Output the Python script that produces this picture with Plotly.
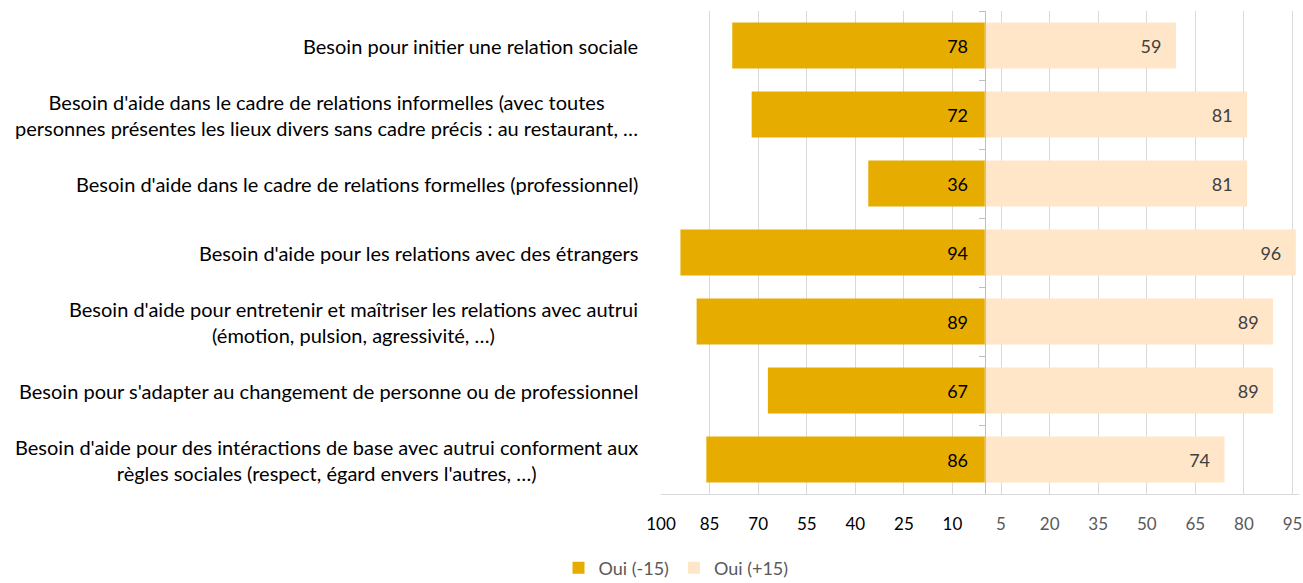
import plotly.graph_objects as go

categories = [
    "Besoin pour initier une relation sociale",
    "Besoin d'aide dans le cadre de relations informelles (avec toutes<br>personnes présentes les lieux divers sans cadre précis : au restaurant, …",
    "Besoin d'aide dans le cadre de relations formelles (professionnel)",
    "Besoin d'aide pour les relations avec des étrangers",
    "Besoin d'aide pour entretenir et maîtriser les relations avec autrui<br>(émotion, pulsion, agressivité, …)",
    "Besoin pour s'adapter au changement de personne ou de professionnel",
    "Besoin d'aide pour des intéractions de base avec autrui conforment aux<br>règles sociales (respect, égard envers l'autres, …)",
]
oui_moins15 = [78, 72, 36, 94, 89, 67, 86]
oui_plus15 = [59, 81, 81, 96, 89, 89, 74]
tick_values = [-100, -85, -70, -55, -40, -25, -10, 5, 20, 35, 50, 65, 80, 95]

ids = [f"c{i}" for i in range(len(categories))]
FONT = "Lato"
NB = "\u00a0"

# body margin removed via post_script, so figure sits at (0, 0)
xmin, xmax = -100, 97
W, H = 1303, 583
ml, mr, mt, mb = 661, 4, 11, 89
pw = W - ml - mr
ph = H - mt - mb
zero_frac = (0 - xmin) / (xmax - xmin)

fig = go.Figure()
fig.add_trace(go.Bar(
    y=ids, x=[-v for v in oui_moins15], orientation="h", name="Oui (-15)",
    marker=dict(color="#E6AC00", line=dict(width=0)),
    text=[f"{v}{NB*3}" for v in oui_moins15], textposition="inside",
    insidetextanchor="start", textangle=0,
    textfont=dict(family=FONT, size=18, color="#000000"),
))
fig.add_trace(go.Bar(
    y=ids, x=oui_plus15, orientation="h", name="Oui (+15)",
    marker=dict(color="#FFE6C9", line=dict(width=0)),
    text=[f"{v}{NB*2}\u2009" for v in oui_plus15], textposition="inside",
    insidetextanchor="end", textangle=0,
    textfont=dict(family=FONT, size=18, color="#404040"),
))

ticktext = []
for v in tick_values:
    col = "#000000" if v < 0 else "#595959"
    ticktext.append(f'<span style="color:{col}">{abs(v)}</span>')

for cid, lab in zip(ids, categories):
    fig.add_annotation(
        x=(640 - ml) / pw, xref="paper", y=cid, yref="y",
        text=lab, showarrow=False, xanchor="right", yanchor="middle",
        align="center", font=dict(family=FONT, size=20, color="#000000"),
    )

fig.update_layout(
    width=W, height=H,
    margin=dict(l=ml, r=mr, t=mt, b=mb, autoexpand=False),
    paper_bgcolor="white", plot_bgcolor="white",
    barmode="relative", bargap=0.33,
    font=dict(family=FONT, size=16, color="#000000"),
    showlegend=True,
    legend=dict(orientation="h", x=(676 - ml) / pw, xanchor="center",
                y=(ph + mt - 568) / ph, yanchor="middle", traceorder="normal",
                font=dict(family=FONT, size=18, color="#595959")),
)
fig.update_xaxes(
    range=[xmin, xmax], tickmode="array", tickvals=tick_values, ticktext=ticktext,
    showgrid=True, gridcolor="#D9D9D9", gridwidth=1, zeroline=False,
    showline=True, linecolor="#D9D9D9", linewidth=1,
    ticks="outside", ticklen=15, tickcolor="rgba(0,0,0,0)",
    tickfont=dict(family=FONT, size=17), ticklabeloverflow="allow",
)
fig.update_yaxes(
    categoryorder="array", categoryarray=ids, autorange="reversed",
    showticklabels=False, showgrid=False, zeroline=False,
    showline=True, linecolor="#BFBFBF", linewidth=1,
    anchor="free", position=zero_frac,
    ticks="outside", tickson="boundaries", ticklen=6, tickcolor="#BFBFBF",
)

fig.write_html("out.html", config={"displayModeBar": False},
               post_script="document.body.style.margin='0px';document.body.style.overflow='hidden';")
